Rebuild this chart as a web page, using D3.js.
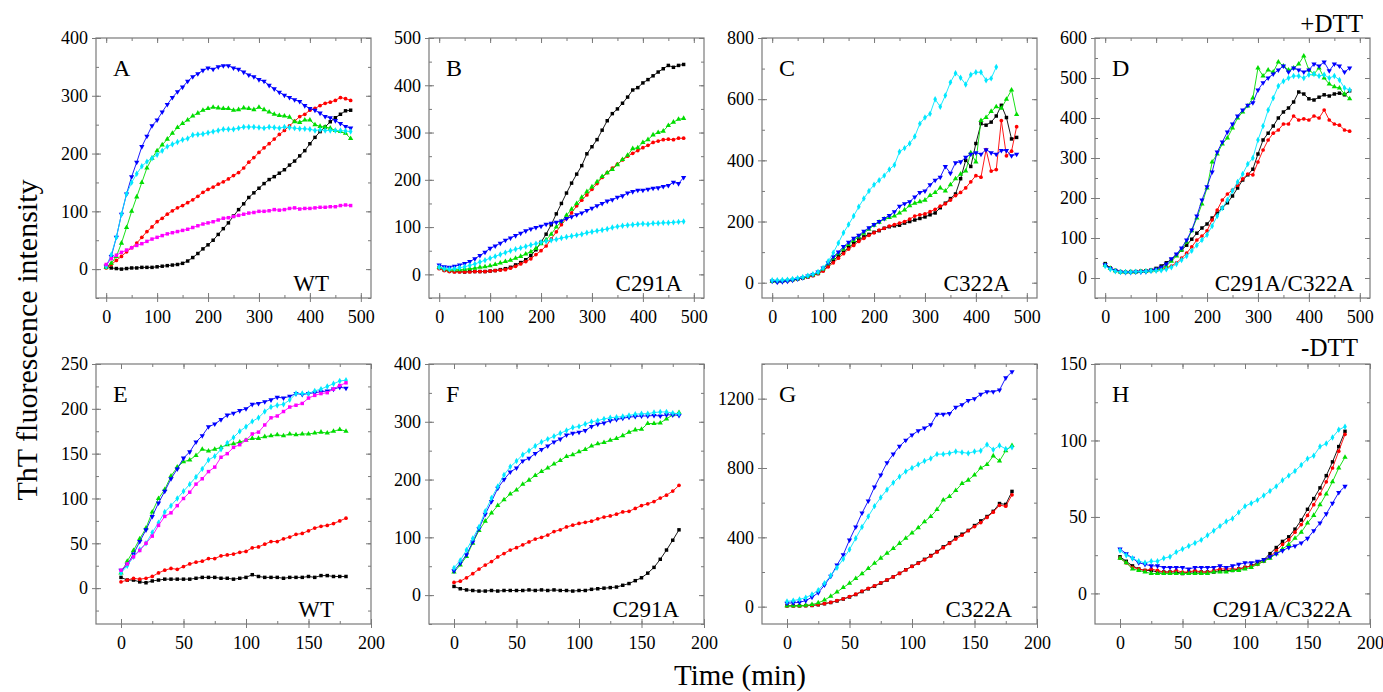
<!DOCTYPE html>
<html>
<head>
<meta charset="utf-8">
<script src="https://cdn.jsdelivr.net/npm/d3@7"></script>
<style>
  body { margin: 0; background: #fff; }
  text { font-family: "Liberation Serif", "Times New Roman", serif; fill: #000; }
</style>
</head>
<body>
<script>
// sampling times (min)
var tLong = [0,10,20,30,40,50,60,70,80,90,100,110,120,130,140,150,160,170,180,190,200,210,220,230,240,250,260,270,280,290,300,310,320,330,340,350,360,370,380,390,400,410,420,430,440,450,460,470,480];
var tShort = [0,5,10,15,20,25,30,35,40,45,50,55,60,65,70,75,80,85,90,95,100,105,110,115,120,125,130,135,140,145,150,155,160,165,170,175,180];

// ---- panel A (WT, +DTT)
var aBlack = [5,2,1,0,1,2,2,3,3,3,4,5,6,7,8,10,14,20,27,35,42,50,60,70,80,92,103,113,124,132,140,148,155,160,166,172,180,187,196,205,217,228,238,246,255,262,268,274,275];
var aRed = [2,8,15,22,30,37,45,55,65,73,82,88,95,101,106,110,115,120,126,133,138,142,147,151,156,162,167,175,185,193,202,210,217,225,233,240,248,256,264,268,275,278,283,287,289,292,297,295,292];
var aGreen = [3,10,22,45,72,100,125,150,175,192,205,215,225,235,245,252,258,265,270,275,278,280,279,278,278,275,276,279,278,276,280,276,272,268,266,265,263,255,254,258,258,250,247,246,244,240,238,235,226];
var aBlue = [5,22,55,95,130,160,185,212,230,248,258,272,285,297,307,315,325,333,338,344,348,346,350,352,352,348,346,341,336,333,328,325,318,312,306,301,297,293,290,283,278,275,270,264,262,257,252,247,244];
var aCyan = [5,25,55,95,130,150,165,178,186,192,198,205,212,216,220,224,226,232,233,234,236,238,240,242,242,242,244,246,246,246,245,244,246,245,244,246,245,244,243,243,242,240,241,240,240,240,240,239,238];
var aMagenta = [8,18,24,29,33,37,41,44,48,52,55,58,61,63,65,67,69,72,75,78,80,82,85,88,89,91,93,95,97,98,100,100,101,103,102,103,105,106,104,105,105,106,107,107,108,108,110,111,110];

// ---- panel B (C291A, +DTT)
var bBlack = [14,9,7,6,6,5,6,6,6,6,7,8,10,12,15,20,25,31,40,52,68,85,105,128,150,172,193,212,230,255,270,285,305,325,340,350,362,375,390,395,405,412,420,428,435,442,438,442,444];
var bRed = [12,8,6,5,5,5,5,6,6,6,7,8,9,10,13,17,22,27,33,42,50,60,75,90,105,118,130,145,157,168,180,192,205,215,225,233,242,250,256,262,268,273,279,282,285,286,285,288,288];
var bGreen = [15,12,10,10,10,11,12,13,15,16,18,21,24,27,30,34,38,43,48,55,65,73,85,100,112,125,138,150,163,175,185,196,207,215,222,232,243,252,266,268,279,285,295,300,303,315,322,328,330];
var bBlue = [20,16,15,17,20,23,27,33,40,47,55,60,66,72,77,82,87,92,96,99,102,106,108,110,113,118,122,126,130,135,140,145,150,155,158,163,166,172,175,178,178,180,182,183,186,188,195,192,205];
var bCyan = [15,12,11,12,14,16,19,22,26,30,34,38,42,46,50,53,56,59,62,65,68,70,72,74,77,79,81,83,85,88,90,92,94,96,99,101,103,104,105,106,107,106,108,108,109,109,110,111,112];

// ---- panel C (C322A, +DTT)
var cBlack = [5,4,5,7,10,12,15,19,24,30,40,55,72,88,100,115,128,140,150,158,165,170,178,183,186,188,195,200,205,210,215,222,228,245,260,275,290,340,400,380,455,520,515,525,545,580,540,470,475];
var cRed = [5,4,5,7,9,12,15,18,23,30,38,52,65,80,95,110,122,135,145,155,163,172,178,185,190,195,200,208,218,222,225,232,240,250,258,270,285,295,310,330,350,345,435,365,370,530,415,430,510];
var cGreen = [5,5,6,8,10,13,17,21,26,33,45,62,80,95,110,125,138,150,162,175,188,198,208,213,218,228,238,252,260,265,270,285,295,310,300,320,340,355,365,425,395,530,540,560,575,570,600,630,550];
var cBlue = [5,2,3,5,8,12,16,22,27,35,48,65,85,100,118,132,145,155,168,180,190,200,210,220,232,250,258,265,280,295,300,320,335,345,380,358,392,395,410,420,425,420,435,425,420,432,432,415,420];
var cCyan = [8,8,9,10,12,15,18,23,28,35,48,70,98,130,163,190,218,248,275,300,320,335,350,370,385,428,440,455,478,520,540,552,600,575,612,655,685,670,648,680,688,688,662,668,705];

// ---- panel D (C291A/C322A, +DTT)
var dBlack = [36,25,19,16,15,16,16,17,18,20,24,30,38,46,58,70,82,97,112,125,135,150,162,175,188,205,225,245,258,272,310,345,362,380,400,415,425,440,465,460,448,445,452,458,455,460,462,458,468];
var dRed = [32,24,18,16,15,15,16,17,17,18,19,21,25,30,38,50,62,78,95,105,118,145,170,195,210,220,232,248,260,258,290,320,345,362,370,385,385,405,395,398,395,405,400,420,395,385,382,370,367];
var dGreen = [32,24,18,15,15,15,15,16,17,18,20,24,30,42,55,70,90,118,150,185,225,290,310,335,350,375,400,415,430,450,525,505,520,515,540,530,520,525,535,555,520,510,525,500,485,478,475,460,448];
var dBlue = [33,24,18,15,14,14,15,15,16,18,22,27,35,48,60,75,95,120,155,195,228,265,315,340,365,385,405,420,432,438,470,488,500,510,520,530,515,525,520,515,520,535,530,540,518,535,530,515,525];
var dCyan = [30,22,17,15,15,15,16,16,17,18,18,19,22,27,35,45,55,68,82,95,108,130,155,175,195,218,240,260,285,300,345,380,420,450,480,492,500,505,505,500,508,510,505,508,500,505,495,475,470];

// ---- panel E (WT, -DTT)
var eBlack = [12,9,9,7,6,8,9,10,10,10,10,10,11,12,12,12,11,11,10,11,12,15,13,12,12,12,11,12,12,12,13,12,14,14,13,13,13];
var eRed = [7,9,11,10,11,13,17,20,22,21,24,27,29,30,33,33,36,37,38,40,41,45,46,49,52,52,55,57,60,61,64,67,69,70,72,75,78];
var eGreen = [17,30,42,55,67,85,100,110,125,135,141,143,148,155,153,155,157,160,161,163,165,167,167,169,170,171,170,172,171,172,172,173,174,173,175,177,175];
var eBlue = [20,26,38,52,65,80,95,108,122,133,145,152,163,170,180,183,188,193,195,198,200,205,206,208,210,213,212,214,217,216,217,218,219,220,222,224,223];
var eCyan = [17,25,35,43,50,62,73,85,92,100,108,116,124,133,143,147,155,162,168,175,180,186,190,197,202,204,205,210,217,217,217,220,222,225,228,231,232];
var eMagenta = [20,27,35,42,50,58,70,80,84,92,100,107,116,122,130,135,146,150,157,160,165,172,174,182,190,192,197,202,204,206,212,215,217,218,222,226,229];

// ---- panel F (C291A, -DTT)
var fBlack = [15,11,9,8,7,7,8,7,8,8,8,8,9,8,9,8,9,8,8,7,8,8,10,11,12,13,14,17,20,25,30,38,48,62,78,95,113];
var fRed = [22,24,30,37,45,52,58,66,72,78,82,87,92,97,100,104,110,113,118,121,124,126,128,132,135,137,140,144,145,150,155,158,162,168,173,180,190];
var fGreen = [40,52,67,90,112,128,142,155,165,175,182,192,199,207,214,220,227,233,240,243,248,252,258,262,264,268,271,276,282,286,287,297,297,298,305,312,316];
var fBlue = [42,55,70,92,115,140,162,185,200,213,220,232,237,245,252,258,265,270,277,280,282,285,292,296,298,302,304,306,308,309,310,310,311,310,312,312,311];
var fCyan = [47,60,78,98,118,145,168,188,208,222,232,243,250,258,265,270,275,280,285,290,292,296,300,302,305,307,308,309,311,313,314,314,316,317,317,315,314];

// ---- panel G (C322A, -DTT)
var gBlack = [5,5,5,6,7,11,17,24,33,44,56,70,87,103,118,136,153,172,192,213,233,252,273,295,318,345,368,400,418,440,468,495,520,550,595,590,665];
var gRed = [5,5,5,6,8,12,18,25,35,45,58,72,90,105,120,138,155,172,192,212,232,250,270,292,315,340,365,390,412,438,462,485,515,545,585,580,645];
var gGreen = [5,5,6,8,12,22,38,60,85,110,135,162,190,220,250,280,308,335,365,395,425,455,490,520,560,615,635,670,710,730,760,800,820,870,840,900,930];
var gBlue = [20,22,25,35,55,80,125,175,240,300,385,460,540,610,690,760,830,880,925,960,990,1015,1030,1050,1110,1110,1115,1150,1165,1190,1200,1225,1240,1240,1250,1320,1355];
var gCyan = [30,35,42,52,70,95,135,180,225,275,330,395,460,520,580,630,675,715,750,780,800,820,840,855,880,880,885,895,890,885,895,900,935,905,930,910,920];

// ---- panel H (C291A/C322A, -DTT)
var hBlack = [24,21,18,16,15,15,14,14,14,14,13,14,14,14,14,14,15,15,15,16,17,18,20,22,26,30,34,37,42,48,55,62,69,77,86,96,106];
var hRed = [23,20,17,16,15,16,15,14,14,15,14,14,15,14,14,15,16,16,16,16,17,18,19,21,24,28,32,35,40,45,51,58,65,73,82,93,104];
var hGreen = [23,20,16,15,14,13,13,13,13,13,13,13,13,13,13,14,14,14,15,15,16,17,19,21,23,26,29,32,36,40,46,51,58,65,73,82,89];
var hBlue = [29,26,23,20,19,18,18,17,17,17,17,16,17,17,17,17,18,17,18,19,20,20,21,22,24,26,28,30,31,33,36,41,46,52,59,66,70];
var hCyan = [28,25,23,21,20,21,21,23,24,27,29,31,33,35,38,41,44,47,49,53,57,59,61,64,67,70,74,77,80,84,88,90,96,98,102,107,109];

// tick labels
var xTicksLong = [0,100,200,300,400,500];
var xTicksShort = [0,50,100,150,200];
var yTicksA = [0,100,200,300,400];
var yTicksB = [0,100,200,300,400,500];
var yTicksC = [0,200,400,600,800];
var yTicksD = [0,100,200,300,400,500,600];
var yTicksE = [0,50,100,150,200,250];
var yTicksF = [0,100,200,300,400];
var yTicksG = [0,400,800,1200];
var yTicksH = [0,50,100,150];

var letters = ["A","B","C","D","E","F","G","H"];
var mutants = ["WT","C291A","C322A","C291A/C322A","WT","C291A","C322A","C291A/C322A"];

var colors = {black:"#000000", red:"#ff0000", green:"#00dd00", blue:"#0000ff", cyan:"#00e8ff", magenta:"#ff00ff"};
var shapes = {black:d3.symbolSquare, red:d3.symbolCircle, green:d3.symbolTriangle, blue:d3.symbolTriangle, cyan:d3.symbolDiamond, magenta:d3.symbolSquare};

var W = 1383, H = 692;
var pw = 275, ph = 260;

var panels = [
  {x:96, y:38, t:tLong, xd:[-20,520], xt:xTicksLong, xm:50, yd:[-50,400], yt:yTicksA, ym:50, dx:42,
   s:{black:aBlack, red:aRed, green:aGreen, blue:aBlue, cyan:aCyan, magenta:aMagenta}},
  {x:429, y:38, t:tLong, xd:[-20,520], xt:xTicksLong, xm:50, yd:[-50,500], yt:yTicksB, ym:50, dx:22,
   s:{black:bBlack, red:bRed, green:bGreen, blue:bBlue, cyan:bCyan}},
  {x:762, y:38, t:tLong, xd:[-20,520], xt:xTicksLong, xm:50, yd:[-50,800], yt:yTicksC, ym:100, dx:27,
   s:{black:cBlack, red:cRed, green:cGreen, blue:cBlue, cyan:cCyan}},
  {x:1095, y:38, t:tLong, xd:[-20,520], xt:xTicksLong, xm:50, yd:[-50,600], yt:yTicksD, ym:50, dx:16,
   s:{black:dBlack, red:dRed, green:dGreen, blue:dBlue, cyan:dCyan}},
  {x:96, y:364, t:tShort, xd:[-20,200], xt:xTicksShort, xm:25, yd:[-40,250], yt:yTicksE, ym:25, dx:37,
   s:{black:eBlack, red:eRed, green:eGreen, blue:eBlue, cyan:eCyan, magenta:eMagenta}},
  {x:429, y:364, t:tShort, xd:[-20,200], xt:xTicksShort, xm:25, yd:[-50,400], yt:yTicksF, ym:50, dx:25,
   s:{black:fBlack, red:fRed, green:fGreen, blue:fBlue, cyan:fCyan}},
  {x:762, y:364, t:tShort, xd:[-20,200], xt:xTicksShort, xm:25, yd:[-100,1400], yt:yTicksG, ym:200, dx:25,
   s:{black:gBlack, red:gRed, green:gGreen, blue:gBlue, cyan:gCyan}},
  {x:1095, y:364, t:tShort, xd:[-20,200], xt:xTicksShort, xm:25, yd:[-20,150], yt:yTicksH, ym:25, dx:18,
   s:{black:hBlack, red:hRed, green:hGreen, blue:hBlue, cyan:hCyan}}
];

var svg = d3.select("body").append("svg")
    .attr("width", W)
    .attr("height", H);

var frameCol = "#7a7a7a";

panels.forEach(function(p, i) {
  var g = svg.append("g").attr("transform", "translate(" + p.x + "," + p.y + ")");
  var x = d3.scaleLinear().domain(p.xd).range([0, pw]);
  var y = d3.scaleLinear().domain(p.yd).range([ph, 0]);

  var xMinor = d3.range(p.xd[0] < 0 ? 0 : p.xd[0], p.xd[1] + 0.1, p.xm);
  var yMinor = d3.range(0, p.yd[1] + 0.1, p.ym);
  if (p.yd[0] < 0) yMinor = d3.range(-p.ym, p.yd[0] - 0.1, -p.ym).concat(yMinor);

  function inward(axis, tv, len, tr) {
    var a = g.append("g").attr("transform", tr)
      .call(axis.tickValues(tv).tickSize(len).tickFormat(""));
    a.select(".domain").remove();
    a.selectAll("line").attr("stroke", frameCol);
  }
  // inward ticks on all four sides
  inward(d3.axisRight(y), yMinor, 3, "translate(0,0)");
  inward(d3.axisRight(y), p.yt, 5, "translate(0,0)");
  inward(d3.axisLeft(y), yMinor, 3, "translate(" + pw + ",0)");
  inward(d3.axisLeft(y), p.yt, 5, "translate(" + pw + ",0)");
  inward(d3.axisBottom(x), xMinor, 3, "translate(0,0)");
  inward(d3.axisBottom(x), p.xt, 5, "translate(0,0)");
  inward(d3.axisTop(x), xMinor, 3, "translate(0," + ph + ")");
  inward(d3.axisTop(x), p.xt, 5, "translate(0," + ph + ")");

  // labelled axes
  var ya = g.append("g")
    .call(d3.axisLeft(y).tickValues(p.yt).tickSize(4).tickPadding(4).tickFormat(d3.format("d")));
  var xa = g.append("g").attr("transform", "translate(0," + ph + ")")
    .call(d3.axisBottom(x).tickValues(p.xt).tickSize(4).tickPadding(8).tickFormat(d3.format("d")));
  [ya, xa].forEach(function(a) {
    a.select(".domain").remove();
    a.selectAll("line").attr("stroke", frameCol);
    a.selectAll("text").style("font-family", "Liberation Serif, serif").style("font-size", "18px");
  });

  g.append("rect")
    .attr("width", pw).attr("height", ph)
    .attr("fill", "none").attr("stroke", frameCol).attr("stroke-width", 1.2);

  var line = d3.line()
    .x(function(d) { return x(d[0]); })
    .y(function(d) { return y(d[1]); });

  Object.keys(p.s).forEach(function(k) {
    var vals = p.s[k];
    var pts = vals.map(function(v, j) { return [p.t[j], v]; });
    g.append("path")
      .datum(pts)
      .attr("d", line)
      .attr("fill", "none")
      .attr("stroke", colors[k])
      .attr("stroke-width", 0.9);
    var sym = d3.symbol().type(shapes[k]).size(k === "red" ? 11 : 12);
    g.selectAll(".m" + k)
      .data(pts)
      .enter().append("path")
      .attr("d", sym)
      .attr("transform", function(d) {
        return "translate(" + x(d[0]) + "," + y(d[1]) + ")" + (k === "blue" ? " rotate(180)" : "");
      })
      .attr("fill", colors[k]);
  });

  g.append("text")
    .attr("x", 17).attr("y", 38)
    .style("font-size", "24px")
    .text(letters[i]);

  g.append("text")
    .attr("x", pw - p.dx).attr("y", ph - 7)
    .attr("text-anchor", "end")
    .style("font-size", "23px")
    .text(mutants[i]);
});

svg.append("text")
  .attr("x", 1363).attr("y", 32)
  .attr("text-anchor", "end")
  .style("font-size", "25px")
  .text("+DTT");

svg.append("text")
  .attr("x", 1358).attr("y", 356)
  .attr("text-anchor", "end")
  .style("font-size", "25px")
  .text("-DTT");

svg.append("text")
  .attr("transform", "translate(37,340) rotate(-90)")
  .attr("text-anchor", "middle")
  .style("font-size", "30px")
  .text("ThT fluorescence intensity");

svg.append("text")
  .attr("x", 740).attr("y", 685)
  .attr("text-anchor", "middle")
  .style("font-size", "29px")
  .text("Time (min)");
</script>
</body>
</html>
